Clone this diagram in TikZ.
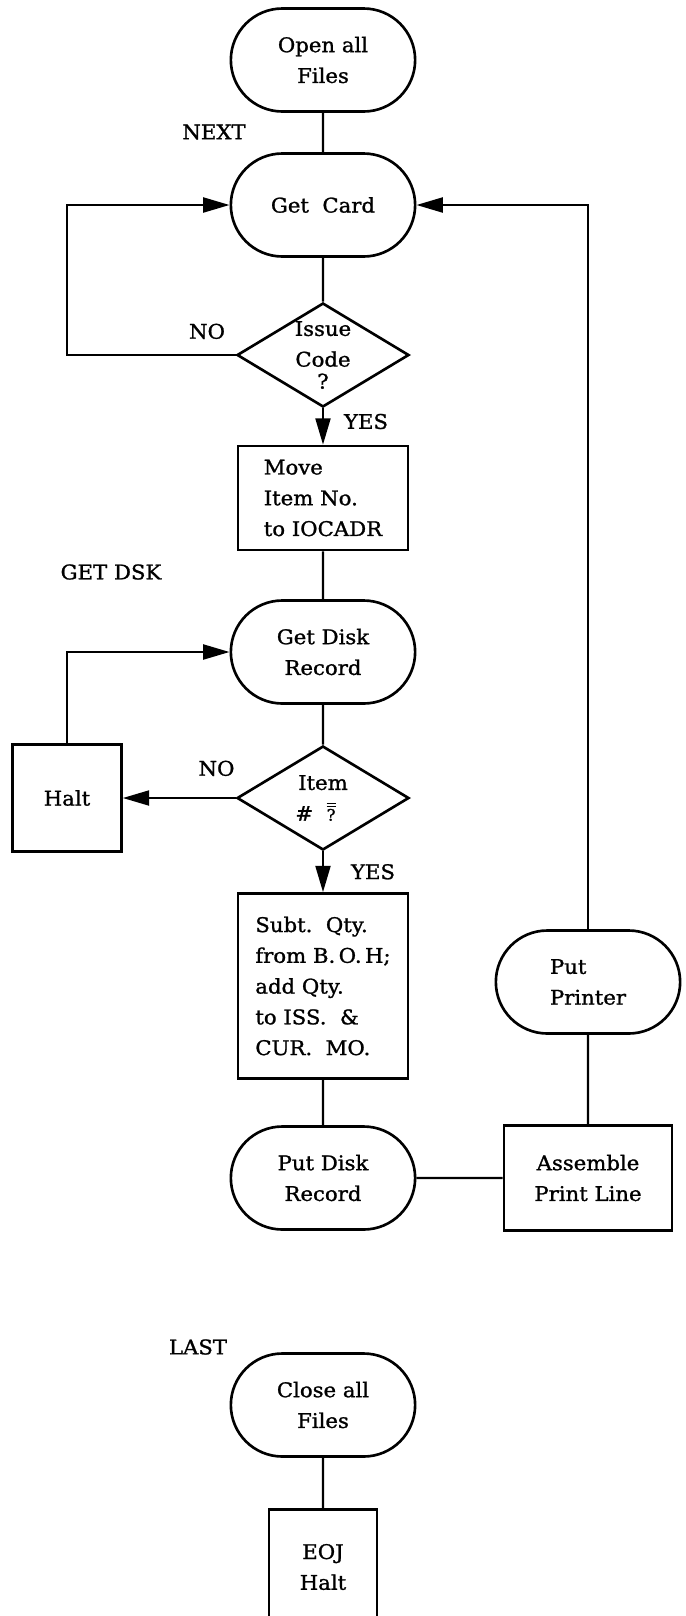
\documentclass[tikz,border=0pt]{standalone}
\usepackage{fontspec}
\setmainfont{DejaVu Serif}[FakeStretch=1.05, FakeBold=1.2]
\usepackage{tikz}
\usetikzlibrary{shapes.geometric, shapes.misc}
\usetikzlibrary{arrows.meta}
\tikzstyle{terminal} = [rounded rectangle, minimum width=3.92cm, minimum height=2.06cm, align=center, draw=black, line width=1.5pt]
\tikzstyle{process} = [rectangle, minimum width=3.4cm, minimum height=2.08cm, align=center, draw=black, line width=1.5pt]
\tikzstyle{decision} = [diamond, aspect=1.65, minimum width=3.44cm, minimum height=2.08cm, inner sep=0pt, align=center, draw=black, line width=1.5pt]
\tikzstyle{tag} = [inner sep=2pt]
\tikzstyle{link} = [line width=1.3pt]
\tikzstyle{arrow} = [line width=1.3pt, -{Triangle[length=15pt,width=8.5pt]}]

\begin{document}
\begin{tikzpicture}[node distance=3cm, font=\fontsize{11.5}{17.5}\selectfont]
\useasboundingbox (-6.46,1.2) rectangle (7.24,-31.12);

\node (open) [terminal] {Open all\\Files};
\node (card) [terminal, below of=open, yshift=0.1cm] {Get\ \ Card};
\node (issue) [decision, below of=card] {Issue\\Code\\[-5pt]?};
\node (move) [process, below of=issue, yshift=0.14cm, align=left] {Move\\Item No.\\to IOCADR};

\node (getdisk) [terminal, below of=move, yshift=-0.08cm] {Get Disk\\Record};
\node (item) [decision, below of=getdisk, yshift=0.08cm] {Item\\\#\ \ $\overline{\overline{\mbox{\small ?}}}$\hspace*{0.3cm}};
\node (halt) [process, left of=item, xshift=-2.12cm, minimum width=2.18cm, minimum height=2.14cm] {Halt};
\node (subt) [process, below of=item, yshift=-0.76cm, minimum height=3.7cm, align=left] {Subt.\ \ Qty.\\from B.\,O.\,H;\\add Qty.\\to ISS.\ \ \&\\CUR.\ \ MO.};

\node (putdisk) [terminal, below of=subt, yshift=-0.84cm] {Put Disk\\Record};
\node (assemble) [process, right of=putdisk, xshift=2.3cm, minimum width=3.36cm, minimum height=2.1cm] {Assemble\\Print Line};
\node (printer) [terminal, above of=assemble, yshift=0.92cm, align=left] {Put\\Printer};

\node (close) [terminal, below of=putdisk, yshift=-1.54cm] {Close all\\Files};
\node (eoj) [process, below of=close, yshift=-0.24cm, minimum width=2.16cm, minimum height=2.3cm] {EOJ\\Halt};

% entry points
\node (next) [tag] at ([xshift=-2.18cm, yshift=1.46cm]card.center) {NEXT};
\node (getdsk) [tag] at ([xshift=-4.24cm, yshift=1.6cm]getdisk.center) {GET DSK};
\node (last) [tag] at ([xshift=-2.5cm, yshift=1.16cm]close.center) {LAST};

\draw [link] (open) -- (card);
\draw [link] (card) -- (issue);
\draw [arrow] (issue.west) -- node[pos=0.17, above=0.18cm] {NO} (issue.west -| halt.north) |- (card.west);
\draw [arrow] (issue) -- node[right=0.28cm, yshift=0.1cm] {YES} (move);
\draw [link] (move) -- (getdisk);
\draw [link] (getdisk) -- (item);
\draw [arrow] (item) -- node[pos=0.17, above=0.3cm] {NO} (halt);
\draw [arrow] (halt.north) |- (getdisk.west);
\draw [arrow] (item) -- node[right=0.42cm] {YES} (subt);
\draw [link] (subt) -- (putdisk);
\draw [link] (putdisk) -- (assemble);
\draw [link] (assemble) -- (printer);
\draw [arrow] (printer.north) |- (card.east);
\draw [link] (close) -- (eoj);

\end{tikzpicture}
\end{document}
